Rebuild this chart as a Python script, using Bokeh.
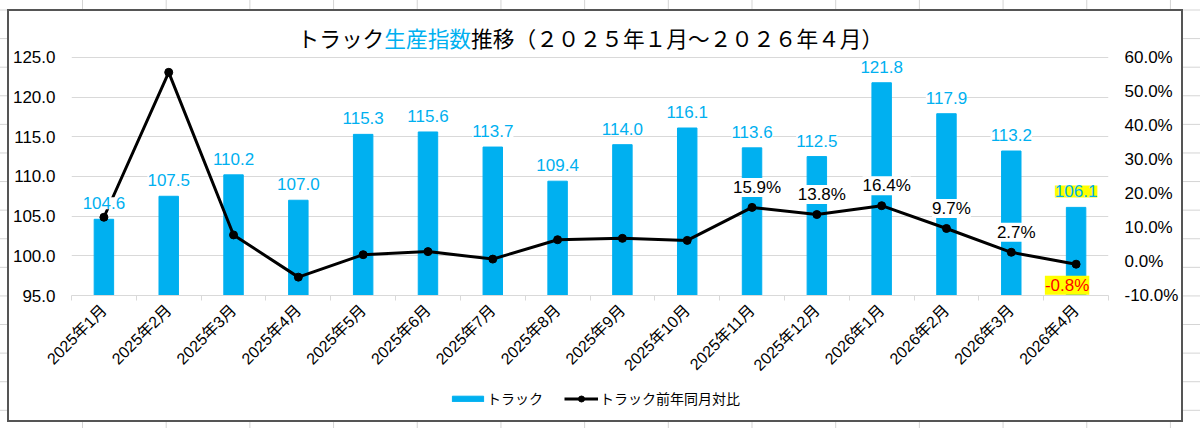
import math
from bokeh.plotting import figure
from bokeh.layouts import column
from bokeh.models import (Range1d, LinearAxis, FixedTicker, PrintfTickFormatter,
                          ColumnDataSource, LabelSet, Label, Legend, LegendItem)
from bokeh.core.properties import value
from bokeh.embed import file_html
from bokeh.resources import INLINE

# ---------------- data ----------------
months = ["2025年1月", "2025年2月", "2025年3月", "2025年4月", "2025年5月", "2025年6月",
          "2025年7月", "2025年8月", "2025年9月", "2025年10月", "2025年11月", "2025年12月",
          "2026年1月", "2026年2月", "2026年3月", "2026年4月"]
index_values = [104.6, 107.5, 110.2, 107.0, 115.3, 115.6, 113.7, 109.4,
                114.0, 116.1, 113.6, 112.5, 121.8, 117.9, 113.2, 106.1]
yoy_pct = [13.0, 55.6, 7.8, -4.6, 2.0, 2.9, 0.7, 6.4,
           6.8, 6.2, 15.9, 13.8, 16.4, 9.7, 2.7, -0.8]
left_ticks = [95, 100, 105, 110, 115, 120, 125]
right_ticks = [-10, 0, 10, 20, 30, 40, 50, 60]
title_parts = ["トラック", "生産指数", "推移（２０２５年１月～２０２６年４月）"]
series_names = ["トラック", "トラック前年同月対比"]
yoy_label_start = 10   # first month whose YoY value is labelled

# ---------------- styles ----------------
BLUE = "#00B0F0"
GRID = "#D9D9D9"
NUM = "Liberation Sans"
JP = "Noto Sans CJK JP"
W = 1172
HEAD = 5.4   # empty room above the top tick (left-axis units) that holds the title

n = len(months)
xs = list(range(1, n + 1))
val_txt = [f"{v:.1f}" for v in index_values]
pct_txt = [f"{v:.1f}%" for v in yoy_pct]

src = ColumnDataSource(dict(x=xs, month=months, val=index_values, pct=yoy_pct,
                            val_txt=val_txt, pct_txt=pct_txt))

def sub(idx):
    return ColumnDataSource(dict(x=[xs[i] for i in idx],
                                 val=[index_values[i] for i in idx],
                                 pct=[yoy_pct[i] for i in idx],
                                 val_txt=[val_txt[i] for i in idx],
                                 pct_txt=[pct_txt[i] for i in idx]))

lspan = left_ticks[-1] - left_ticks[0]
rspan = right_ticks[-1] - right_ticks[0]

# ---------------- main chart ----------------
p = figure(width=W, height=374,
           x_range=Range1d(0.5, n + 0.5),
           y_range=Range1d(left_ticks[0], left_ticks[-1] + HEAD),
           output_backend="svg", toolbar_location=None,
           min_border_left=58, min_border_right=68,
           min_border_top=3, min_border_bottom=90)
p.extra_y_ranges = {"pct": Range1d(right_ticks[0], right_ticks[-1] + HEAD * rspan / lspan)}
p.outline_line_color = None
p.background_fill_color = "white"
p.border_fill_color = "white"

p.yaxis.ticker = FixedTicker(ticks=left_ticks)
p.yaxis.formatter = PrintfTickFormatter(format="%.1f")
raxis = LinearAxis(y_range_name="pct", ticker=FixedTicker(ticks=right_ticks),
                   formatter=PrintfTickFormatter(format="%.1f%%"))
p.add_layout(raxis, "right")
for ax in p.yaxis:
    ax.axis_line_color = None
    ax.major_tick_line_color = None
    ax.minor_tick_line_color = None
    ax.major_label_text_font = NUM
    ax.major_label_text_font_size = "17px"
    ax.major_label_text_color = "black"
    ax.major_label_standoff = 10

p.xaxis.ticker = FixedTicker(ticks=xs, minor_ticks=[x - 0.5 for x in xs] + [n + 0.5])
p.xaxis.major_label_overrides = {x: m for x, m in zip(xs, months)}
p.xaxis.major_label_orientation = math.pi / 4
p.xaxis.axis_line_color = GRID
p.xaxis.major_tick_line_color = None
p.xaxis.minor_tick_line_color = GRID
p.xaxis.minor_tick_out = 5
p.xaxis.minor_tick_in = 0
p.xaxis.major_label_text_font = "Liberation Sans, Noto Sans CJK JP"
p.xaxis.major_label_text_font_size = "16px"
p.xaxis.major_label_text_color = "black"
p.xaxis.major_label_standoff = 6

p.xgrid.visible = False
p.ygrid.ticker = FixedTicker(ticks=left_ticks)
p.ygrid.grid_line_color = GRID

bars = p.vbar(x="x", top="val", bottom=left_ticks[0], width=0.3, color=BLUE, source=src)
line = p.line("x", "pct", y_range_name="pct", line_width=3, color="black", source=src)
dots = p.scatter("x", "pct", y_range_name="pct", size=8, color="black", source=src)

normal_bars = sub(range(n - 1))
last = sub([n - 1])
yoy_up = sub(range(yoy_label_start, n - 1))

p.add_layout(LabelSet(x="x", y="val", text="val_txt", source=normal_bars,
                      y_offset=16, text_align="center", text_baseline="middle",
                      text_color=BLUE, text_font=value(NUM), text_font_size="17px",
                      background_fill_color="white"))
p.add_layout(LabelSet(x="x", y="val", text="val_txt", source=last,
                      y_offset=16, text_align="center", text_baseline="middle",
                      text_color=BLUE, text_font=value(NUM), text_font_size="17px",
                      background_fill_color="yellow"))
p.add_layout(LabelSet(x="x", y="pct", text="pct_txt", source=yoy_up, y_range_name="pct",
                      x_offset=5, y_offset=20, text_align="center", text_baseline="middle",
                      text_color="black", text_font=value(NUM), text_font_size="17px",
                      background_fill_color="white"))
p.add_layout(LabelSet(x="x", y="pct", text="pct_txt", source=last, y_range_name="pct",
                      x_offset=-9, y_offset=-21, text_align="center", text_baseline="middle",
                      text_color="red", text_font=value(NUM), text_font_size="17px",
                      background_fill_color="yellow"))

# title (three coloured pieces) in the head room of the frame
fs = 21.7
tx = 226
for part, col in zip(title_parts, ["black", BLUE, "black"]):
    p.add_layout(Label(x=tx, y=258, x_units="screen", y_units="screen", text=part,
                       text_font=JP, text_font_size=f"{fs}px", text_color=col,
                       text_align="left", text_baseline="middle"))
    tx += fs * len(part)

# ---------------- legend strip ----------------
lf = figure(frame_width=W, frame_height=35, min_border=0,
            x_range=Range1d(0, 1), y_range=Range1d(0, 1),
            x_axis_type=None, y_axis_type=None, output_backend="svg",
            toolbar_location=None)
lf.outline_line_color = None
lf.background_fill_color = "white"
lf.border_fill_color = "white"
lg_bar = lf.vbar(x="x", top="val", width=0.3, color=BLUE, source=src, visible=False)
lg_line = lf.line("x", "pct", line_width=3, color="black", source=src, visible=False)
lg_dot = lf.scatter("x", "pct", size=8, color="black", source=src, visible=False)
common = dict(orientation="horizontal", padding=0, margin=0, border_line_color=None,
              background_fill_alpha=0, inactive_fill_alpha=0,
              label_text_font=JP, label_text_font_size="14px", label_text_color="black")
lf.add_layout(Legend(items=[LegendItem(label=series_names[0], renderers=[lg_bar])],
                     location=(439, 12), glyph_width=39, glyph_height=7, label_height=7,
                     label_standoff=0, **common))
lf.add_layout(Legend(items=[LegendItem(label=series_names[1], renderers=[lg_line, lg_dot])],
                     location=(555, 12), glyph_width=34, glyph_height=15, label_height=15,
                     label_standoff=2, **common))

chart = column(p, lf, spacing=0)
chart.styles = {"border": "2px solid #555555", "background": "white"}

# spreadsheet cell grid behind the chart
page = column(chart)
page.styles = {
    "width": "1200px", "height": "428px", "box-sizing": "border-box",
    "padding": "9px 0 0 7px", "overflow": "hidden",
    "background-color": "white",
    "background-image": "linear-gradient(to right, #D4D4D4 1px, transparent 1px),"
                        "linear-gradient(to bottom, #D4D4D4 1px, transparent 1px)",
    "background-size": "83.7px 28.6px",
    "background-position": "82px 9.5px",
}

open("out.html", "w").write(file_html(page, INLINE))
